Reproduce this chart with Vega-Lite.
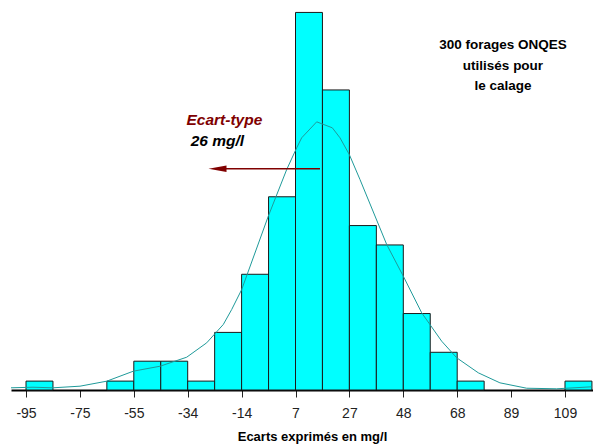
{
  "$schema": "https://vega.github.io/schema/vega-lite/v6.json",
  "width": 582,
  "height": 385,
  "padding": {"left": 11, "top": 5, "right": 0, "bottom": 57},
  "autosize": {"type": "none"},
  "background": "white",
  "config": {"view": {"stroke": null}, "font": "Liberation Sans"},
  "layer": [
    {
      "data": {"values": [
        {"x0": -95.0, "x1": -84.8, "n": 1.7},
        {"x0": -64.4, "x1": -54.2, "n": 1.7},
        {"x0": -54.2, "x1": -44.0, "n": 5.5},
        {"x0": -44.0, "x1": -33.8, "n": 5.5},
        {"x0": -33.8, "x1": -23.6, "n": 1.7},
        {"x0": -23.6, "x1": -13.4, "n": 11.0},
        {"x0": -13.4, "x1": -3.2, "n": 22.1},
        {"x0": -3.2, "x1": 7.0, "n": 36.9},
        {"x0": 7.0, "x1": 17.2, "n": 72.1},
        {"x0": 17.2, "x1": 27.4, "n": 57.3},
        {"x0": 27.4, "x1": 37.6, "n": 31.4},
        {"x0": 37.6, "x1": 47.8, "n": 27.7},
        {"x0": 47.8, "x1": 58.0, "n": 14.6},
        {"x0": 58.0, "x1": 68.2, "n": 7.2},
        {"x0": 68.2, "x1": 78.4, "n": 1.7},
        {"x0": 109.0, "x1": 119.2, "n": 1.7}
      ]},
      "mark": {"type": "rect", "fill": "#00FFFF", "stroke": "#1a1a1a", "strokeWidth": 1},
      "encoding": {
        "x": {"field": "x0", "type": "quantitative",
          "scale": {"domain": [-100.68, 119.6], "nice": false, "zero": false},
          "axis": {
            "title": "Ecarts exprimés en mg/l",
            "values": [-95, -74.6, -54.2, -33.8, -13.4, 7, 27.4, 47.8, 68.2, 88.6, 109],
            "labelExpr": "['-95','-75','-55','-34','-14','7','27','48','68','89','109'][round((datum.value+95)/20.4)]",
            "grid": false,
            "domainColor": "#000000",
            "domainWidth": 2,
            "tickColor": "#222222",
            "tickWidth": 1,
            "tickSize": 7,
            "labelFont": "Liberation Sans",
            "labelFontSize": 14,
            "labelColor": "#222222",
            "labelPadding": 9,
            "titleFont": "Liberation Sans",
            "titleFontSize": 13,
            "titleFontWeight": "bold",
            "titleColor": "#000000",
            "titlePadding": 10,
            "titleX": 301
          }
        },
        "x2": {"field": "x1"},
        "y": {"field": "n", "type": "quantitative",
          "scale": {"domain": [0, 73.52], "nice": false}, "axis": null},
        "y2": {"datum": 0}
      }
    },
    {
      "data": {"values": [
        {"x": -100.68, "y": 0.42}, {"x": -92.35, "y": 0.53}, {"x": -84.78, "y": 0.42},
        {"x": -74.56, "y": 0.73}, {"x": -64.46, "y": 1.68}, {"x": -54.39, "y": 3.59},
        {"x": -44.28, "y": 4.54}, {"x": -34.18, "y": 6.26}, {"x": -26.61, "y": 9.01},
        {"x": -20.33, "y": 12.51}, {"x": -17.15, "y": 15.37}, {"x": -13.36, "y": 19.19},
        {"x": -3.30, "y": 33.19}, {"x": 3.67, "y": 42.10}, {"x": 7.45, "y": 46.25},
        {"x": 9.34, "y": 48.16}, {"x": 15.02, "y": 51.21}, {"x": 20.93, "y": 50.07},
        {"x": 23.84, "y": 48.16}, {"x": 27.36, "y": 44.97}, {"x": 31.41, "y": 40.19},
        {"x": 41.52, "y": 27.78}, {"x": 47.80, "y": 21.73}, {"x": 54.76, "y": 14.74},
        {"x": 62.33, "y": 9.32}, {"x": 68.01, "y": 6.15}, {"x": 76.19, "y": 3.28},
        {"x": 84.37, "y": 1.37}, {"x": 94.50, "y": 0.34}, {"x": 105.85, "y": 0.23},
        {"x": 119.10, "y": 0.61}
      ]},
      "mark": {"type": "line", "color": "#1f9a9a", "strokeWidth": 1},
      "encoding": {
        "x": {"field": "x", "type": "quantitative"},
        "y": {"field": "y", "type": "quantitative"}
      }
    },
    {
      "data": {"values": [{}]},
      "mark": {"type": "rule", "color": "#800000", "strokeWidth": 1.5},
      "encoding": {
        "x": {"datum": -19.5},
        "x2": {"datum": 16.27},
        "y": {"datum": 42.24}
      }
    },
    {
      "data": {"values": [{}]},
      "mark": {"type": "point", "shape": "M 1 -0.36 L -1 0 L 1 0.36 Z", "size": 324, "filled": true, "color": "#800000", "opacity": 1, "strokeWidth": 0},
      "encoding": {
        "x": {"datum": -22.52},
        "y": {"datum": 42.24}
      }
    },
    {
      "data": {"values": [{}]},
      "mark": {"type": "text", "text": "Ecart-type", "font": "Liberation Sans", "fontSize": 15.5, "fontWeight": "bold", "fontStyle": "italic", "color": "#800000", "align": "center", "baseline": "alphabetic"},
      "encoding": {
        "x": {"datum": -19.91},
        "y": {"datum": 50.70}
      }
    },
    {
      "data": {"values": [{}]},
      "mark": {"type": "text", "text": "26 mg/l", "font": "Liberation Sans", "fontSize": 15.5, "fontWeight": "bold", "fontStyle": "italic", "color": "#000000", "align": "left", "baseline": "alphabetic"},
      "encoding": {
        "x": {"datum": -32.66},
        "y": {"datum": 46.55}
      }
    },
    {
      "data": {"values": [{}]},
      "mark": {"type": "text", "text": ["300 forages ONQES", "utilisés pour", "le calage"], "lineHeight": 20.7, "font": "Liberation Sans", "fontSize": 13.5, "fontWeight": "bold", "color": "#000000", "align": "center", "baseline": "alphabetic"},
      "encoding": {
        "x": {"datum": 85.53},
        "y": {"datum": 65.15}
      }
    }
  ]
}
